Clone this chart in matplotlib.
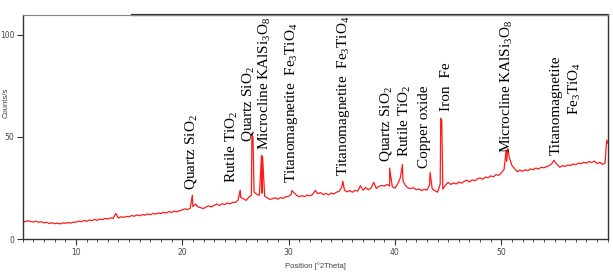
import numpy as np
import matplotlib.pyplot as plt
from matplotlib.ticker import MultipleLocator

plt.rcParams['mathtext.fontset'] = 'custom'
plt.rcParams['mathtext.rm'] = 'Liberation Serif'
plt.rcParams['mathtext.it'] = 'Liberation Serif:italic'

# fundo do difratograma, passo de 0.25 grau de 5 a 60
pos_fundo = np.arange(5.0, 60.001, 0.25)
cts_fundo = [
    9.0, 8.6, 9.1, 8.7, 8.4, 8.9, 8.3, 8.6, 8.0, 8.3, 7.7, 8.1, 7.6, 7.9, 7.5, 8.0, 7.8, 8.2, 7.9, 8.4,
    8.3, 8.9, 8.6, 9.2, 8.8, 9.4, 9.1, 9.7, 9.3, 9.9, 9.6, 10.2, 9.9, 10.5, 10.2, 12.6, 10.4, 11.0, 10.7, 11.2,
    11.0, 11.6, 11.3, 11.9, 11.5, 12.1, 11.8, 12.4, 12.0, 12.6, 12.3, 12.9, 12.6, 13.2, 12.8, 13.6, 13.1, 13.8, 13.4, 14.0,
    14.3, 14.9, 14.5, 15.2, 16.0, 17.2, 15.8, 15.4, 15.0, 15.9, 16.3, 15.8, 16.6, 17.2, 16.5, 17.4, 17.0, 17.8, 17.3, 18.1,
    18.0, 19.2, 20.5, 19.8, 19.0, 20.5, 21.5, 23.0, 22.0, 21.5, 22.5, 21.0, 20.2, 19.5, 19.8, 20.3, 19.6, 20.4, 20.0, 20.8,
    21.0, 22.0, 22.8, 21.5, 20.8, 21.3, 20.9, 21.6, 21.2, 21.9, 23.8, 22.3, 22.8, 21.8, 22.4, 21.7, 22.6, 22.1, 23.0, 23.4,
    25.5, 24.0, 23.2, 23.8, 23.0, 23.9, 23.5, 26.2, 24.0, 25.3, 24.2, 25.0, 27.8, 24.8, 25.9, 26.3, 26.0, 26.8, 26.0, 25.6,
    25.0, 27.0, 30.0, 28.5, 26.2, 25.0, 24.8, 25.2, 24.2, 24.6, 23.8, 24.5, 24.0, 26.5, 24.6, 23.8, 23.0, 27.0, 24.5, 26.5,
    27.8, 26.8, 27.5, 27.0, 28.0, 27.4, 28.3, 28.9, 28.0, 29.0, 28.6, 29.5, 30.0, 29.3, 30.4, 30.0, 31.0, 30.5, 31.6, 31.2,
    32.5, 34.0, 38.0, 40.0, 36.0, 34.5, 33.0, 33.8, 33.2, 34.0, 33.5, 34.4, 34.0, 34.8, 34.3, 35.2, 34.9, 35.5, 36.0, 37.0,
    38.0, 36.5, 35.2, 36.0, 35.6, 36.3, 36.0, 36.8, 36.4, 37.2, 36.9, 37.6, 37.2, 38.0, 37.5, 38.2, 37.0, 37.6, 36.6, 37.2,
    47.0,
]

# picos
pos_picos = [20.95, 25.45, 26.55, 26.65, 27.45, 27.55, 30.3, 35.1, 39.5, 40.7,
             43.3, 44.3, 44.4, 50.45, 50.6, 54.95, 59.9]
cts_picos = [21.6, 24.0, 51.0, 50.0, 41.0, 40.5, 23.8, 28.4, 34.7, 36.5,
             32.6, 59.0, 58.0, 43.5, 44.3, 38.6, 48.5]

# rotulos das fases: texto, posicao, base do texto
rotulos = ['Quartz SiO$_2$', 'Rutile TiO$_2$', 'Quartz SiO$_2$', 'Microcline KAlSi$_3$O$_8$',
           'Titanomagnetite  Fe$_3$TiO$_4$', 'Titanomagnetite  Fe$_3$TiO$_4$',
           'Quartz SiO$_2$', 'Rutile TiO$_2$', 'Copper oxide', 'Iron  Fe',
           'Microcline KAlSi$_3$O$_8$', 'Titanomagnetite', 'Fe$_3$TiO$_4$']
rot_x = [20.8, 24.7, 26.2, 27.8, 30.3, 35.2, 39.2, 40.9, 42.8, 44.8, 50.5, 55.2, 56.9]
rot_y = [24.0, 27.6, 47.6, 43.5, 27.3, 30.9, 37.9, 40.3, 34.6, 62.6, 42.2, 41.1, 60.6]

# junta fundo e picos
x = np.concatenate([pos_fundo, pos_picos])
y = np.concatenate([cts_fundo, cts_picos])
ordem = np.argsort(x)
x = x[ordem]
y = y[ordem]

fig = plt.figure(figsize=(6.13, 2.74), dpi=100)
ax = fig.add_axes([0.037, 0.1266, 0.9544, 0.8184])

ax.plot(x, y, color='#ff1a1a', lw=0.9)

for t, px, py in zip(rotulos, rot_x, rot_y):
    ax.text(px, py, t, rotation=90, ha='center', va='bottom',
            family='Liberation Serif', fontsize=11, color='black')

ax.set_xlim(5, 60)
ax.set_ylim(0, 109.5)
ax.set_xticks([10, 20, 30, 40, 50])
ax.xaxis.set_minor_locator(MultipleLocator(1))
ax.set_yticks([0, 50, 100])
ax.tick_params(axis='both', which='major', direction='out', length=4, width=0.8,
               labelsize=5.5, labelcolor='#444444', color='#333333', pad=2)
ax.tick_params(axis='x', which='minor', direction='out', length=2, width=0.6, color='#333333')

for lado in ['left', 'bottom', 'right']:
    ax.spines[lado].set_color('#333333')
    ax.spines[lado].set_linewidth(1.0)
ax.spines['top'].set_color('#888888')
ax.spines['top'].set_linewidth(0.8)
# trecho mais grosso da borda superior
ax.plot([0.187, 1.0], [1.0, 1.0], transform=ax.transAxes, color='#333333',
        lw=1.6, clip_on=False)

ax.set_xlabel('Position [°2Theta]', fontsize=5.5, color='#444444', labelpad=4,
              family='Liberation Sans')
ax.set_ylabel('Counts/s', fontsize=5.5, color='#444444',
              family='Liberation Sans')
ax.yaxis.set_label_coords(-0.022, 0.61)

plt.savefig('out.png', dpi=100)
